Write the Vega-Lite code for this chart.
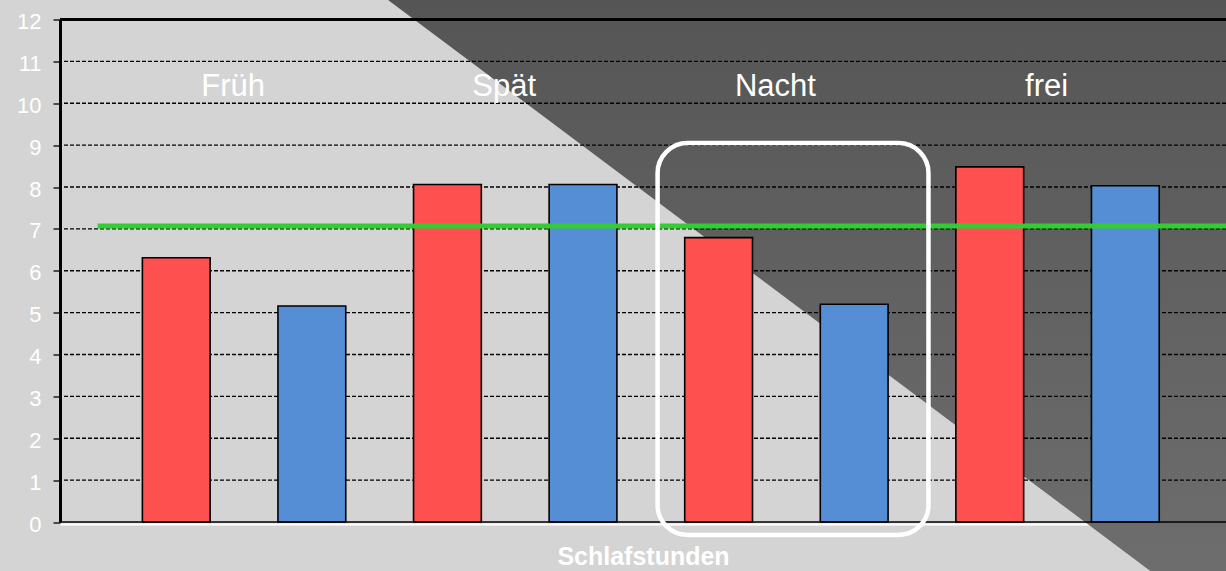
{
  "$schema": "https://vega.github.io/schema/vega-lite/v6.json",
  "width": 1166,
  "height": 502.5,
  "autosize": {"type": "none"},
  "padding": {"left": 60, "top": 19.5, "right": 0, "bottom": 49},
  "background": "#d4d4d4",
  "config": {
    "view": {"stroke": null},
    "font": "Liberation Sans",
    "axisY": {
      "grid": false,
      "domainColor": "#000000",
      "domainWidth": 3,
      "tickColor": "#000000",
      "tickSize": 7,
      "tickWidth": 1.3,
      "labelColor": "#ffffff",
      "labelFontSize": 22,
      "labelFontWeight": "normal",
      "labelFont": "Liberation Sans",
      "labelPadding": 12,
      "labelOffset": 2
    }
  },
  "datasets": {
    "schlaf": [
      {"Schicht": "Früh", "Serie": "A", "Stunden": 6.31},
      {"Schicht": "Früh", "Serie": "B", "Stunden": 5.16},
      {"Schicht": "Spät", "Serie": "A", "Stunden": 8.06},
      {"Schicht": "Spät", "Serie": "B", "Stunden": 8.06},
      {"Schicht": "Nacht", "Serie": "A", "Stunden": 6.79},
      {"Schicht": "Nacht", "Serie": "B", "Stunden": 5.2},
      {"Schicht": "frei", "Serie": "A", "Stunden": 8.48},
      {"Schicht": "frei", "Serie": "B", "Stunden": 8.03}
    ],
    "schichten": [
      {"Schicht": "Früh"}, {"Schicht": "Spät"}, {"Schicht": "Nacht"}, {"Schicht": "frei"}
    ],
    "raster": [
      {"h": 1}, {"h": 2}, {"h": 3}, {"h": 4}, {"h": 5}, {"h": 6},
      {"h": 7}, {"h": 8}, {"h": 9}, {"h": 10}, {"h": 11}
    ],
    "dreieck": [
      {"tx": 0.2749, "oben": 12.6, "kante": 12.6},
      {"tx": 1.0, "oben": 12.6, "kante": -2.524}
    ],
    "referenz": [{"Wert": 7.07}],
    "eins": [{}]
  },
  "layer": [
    {
      "data": {"name": "dreieck"},
      "mark": {
        "type": "area",
        "clip": false,
        "orient": "vertical",
        "fill": {
          "gradient": "linear",
          "x1": 0, "y1": 0, "x2": 0, "y2": 1,
          "stops": [
            {"offset": 0, "color": "#555555"},
            {"offset": 1, "color": "#707070"}
          ]
        },
        "strokeWidth": 0
      },
      "encoding": {
        "x": {"field": "tx", "type": "quantitative", "scale": {"domain": [0, 1], "nice": false, "zero": false}, "axis": null},
        "y": {
          "field": "oben",
          "type": "quantitative",
          "scale": {"domain": [0, 12], "nice": false},
          "axis": {"title": null, "orient": "left", "values": [0, 1, 2, 3, 4, 5, 6, 7, 8, 9, 10, 11, 12], "labelFontSize": 22, "labelColor": "#ffffff"}
        },
        "y2": {"field": "kante"}
      }
    },
    {
      "data": {"name": "raster"},
      "mark": {"type": "rule", "color": "#000000", "strokeWidth": 1.3, "strokeDash": [4, 2]},
      "encoding": {
        "y": {"field": "h", "type": "quantitative"}
      }
    },
    {
      "data": {"name": "schlaf"},
      "mark": {"type": "bar", "stroke": "#000000", "strokeWidth": 1.6},
      "encoding": {
        "x": {
          "field": "Schicht",
          "type": "nominal",
          "sort": null,
          "scale": {"domain": ["Früh", "Spät", "Nacht", "frei"], "paddingInner": 0, "paddingOuter": 0.15, "align": 0.596},
          "axis": {
            "orient": "bottom",
            "title": "Schlafstunden",
            "titleColor": "#ffffff",
            "titleFontSize": 25,
            "titleFontWeight": "bold",
            "titleFont": "Liberation Sans",
            "titlePadding": 20,
            "labels": false,
            "ticks": false,
            "domainColor": "#ffffff",
            "domainWidth": 2,
            "offset": 2
          }
        },
        "xOffset": {"field": "Serie", "type": "nominal", "scale": {"paddingInner": 0.5, "paddingOuter": 0.25}},
        "y": {"field": "Stunden", "type": "quantitative"},
        "color": {
          "field": "Serie",
          "type": "nominal",
          "scale": {"domain": ["A", "B"], "range": ["#ff5050", "#558ed5"]},
          "legend": null
        }
      }
    },
    {
      "data": {"name": "eins"},
      "mark": {"type": "rule", "color": "#000000", "strokeWidth": 3},
      "encoding": {"y": {"datum": 12, "type": "quantitative"}}
    },
    {
      "data": {"name": "eins"},
      "mark": {"type": "rule", "color": "#000000", "strokeWidth": 1.5},
      "encoding": {"y": {"datum": 0, "type": "quantitative"}}
    },
    {
      "data": {"name": "referenz"},
      "mark": {"type": "rule", "color": "#33cc33", "strokeWidth": 5, "clip": false},
      "encoding": {
        "x": {"datum": "Früh", "type": "nominal", "bandPosition": -0.04, "scale": {"type": "band", "domain": ["Früh", "Spät", "Nacht", "frei"], "paddingInner": 0, "paddingOuter": 0.15, "align": 0.596}, "axis": null},
        "x2": {"datum": "frei", "bandPosition": 1.3},
        "y": {"field": "Wert", "type": "quantitative"}
      }
    },
    {
      "data": {"name": "eins"},
      "mark": {"type": "rect", "fillOpacity": 0, "fill": "#ffffff", "stroke": "#ffffff", "strokeWidth": 4.5, "cornerRadius": 30, "clip": false},
      "encoding": {
        "x": {"datum": "Nacht", "type": "nominal", "bandPosition": 0.025, "scale": {"type": "band", "domain": ["Früh", "Spät", "Nacht", "frei"], "paddingInner": 0, "paddingOuter": 0.15, "align": 0.596}, "axis": null},
        "x2": {"datum": "Nacht", "bandPosition": 1.024},
        "y": {"datum": 9.05, "type": "quantitative"},
        "y2": {"datum": -0.31}
      }
    },
    {
      "data": {"name": "schichten"},
      "mark": {"type": "text", "color": "#ffffff", "fontSize": 31, "font": "Liberation Sans", "baseline": "alphabetic", "align": "center", "dx": -11},
      "encoding": {
        "x": {"field": "Schicht", "type": "nominal", "scale": {"type": "band", "domain": ["Früh", "Spät", "Nacht", "frei"], "paddingInner": 0, "paddingOuter": 0.15, "align": 0.596}, "axis": null},
        "y": {"datum": 10.18, "type": "quantitative"},
        "text": {"field": "Schicht"}
      }
    }
  ],
  "resolve": {"scale": {"x": "independent"}, "axis": {"x": "independent"}}
}
